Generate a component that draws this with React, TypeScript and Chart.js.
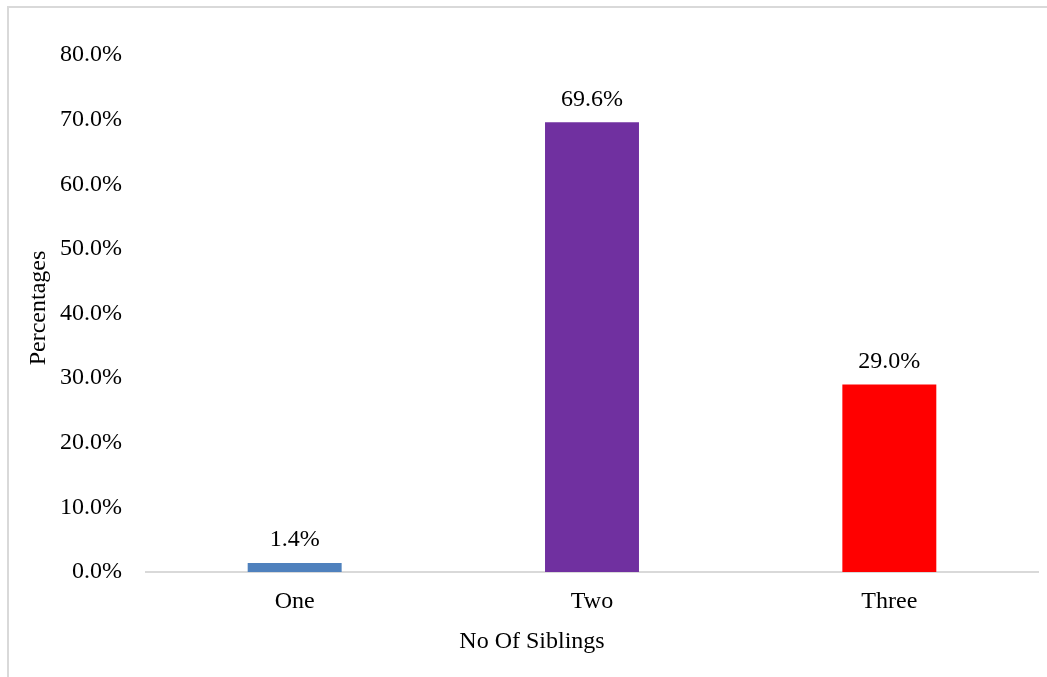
import React, { useEffect, useRef } from "react";
import { Chart, registerables } from "chart.js";

Chart.register(...registerables);

const categories = ["One", "Two", "Three"];
const percentages = [1.4, 69.6, 29.0];
const barColors = ["#4F81BD", "#7030A0", "#FF0000"];
const yTicks = [0, 10, 20, 30, 40, 50, 60, 70, 80];
const xTitle = "No Of Siblings";
const yTitle = "Percentages";

const FONT_FAMILY = "'Liberation Serif', 'Times New Roman', serif";
const FONT_SIZE = 24;

// Frame, axis titles and value labels above each bar
const decorations = {
  id: "decorations",
  beforeDraw(chart: any) {
    const { ctx, width, height } = chart;
    ctx.save();
    ctx.fillStyle = "#ffffff";
    ctx.fillRect(0, 0, width, height);
    ctx.strokeStyle = "#d9d9d9";
    ctx.lineWidth = 2;
    ctx.beginPath();
    ctx.moveTo(8, height + 2);
    ctx.lineTo(8, 7);
    ctx.lineTo(width + 2, 7);
    ctx.stroke();
    ctx.restore();
  },
  afterDatasetsDraw(chart: any) {
    const { ctx } = chart;
    ctx.save();
    ctx.fillStyle = "#000000";
    ctx.font = `${FONT_SIZE}px ${FONT_FAMILY}`;
    ctx.textAlign = "center";
    ctx.textBaseline = "middle";
    const meta = chart.getDatasetMeta(0);
    meta.data.forEach((bar: any, i: number) => {
      ctx.fillText(percentages[i].toFixed(1) + "%", bar.x, bar.y - 23);
    });
    // x axis title
    ctx.fillText(xTitle, 532, 642);
    // y axis title
    ctx.translate(39, 308);
    ctx.rotate(-Math.PI / 2);
    ctx.fillText(yTitle, 0, 0);
    ctx.restore();
  },
};

export default function App() {
  const canvasRef = useRef<HTMLCanvasElement | null>(null);

  useEffect(() => {
    if (!canvasRef.current) return;
    const font = { family: FONT_FAMILY, size: FONT_SIZE };
    const chart = new Chart(canvasRef.current, {
      type: "bar",
      data: {
        labels: categories,
        datasets: [
          {
            data: percentages,
            backgroundColor: barColors,
            borderWidth: 0,
            categoryPercentage: 1,
            barPercentage: 0.316,
          },
        ],
      },
      options: {
        responsive: false,
        animation: false,
        layout: { padding: { top: 55, right: 9, left: 0, bottom: 0 } },
        plugins: {
          legend: { display: false },
          tooltip: { enabled: false },
        },
        scales: {
          x: {
            grid: { display: false, drawTicks: false },
            border: { display: true, color: "#d9d9d9", width: 2 },
            ticks: { color: "#000000", font, padding: 15 },
            afterFit(scale: any) {
              scale.height = 105;
            },
          },
          y: {
            min: 0,
            max: 80,
            grid: { display: false, drawTicks: false },
            border: { display: false },
            afterBuildTicks(scale: any) {
              scale.ticks = yTicks.map((v) => ({ value: v }));
            },
            ticks: {
              color: "#000000",
              font,
              padding: 24,
              callback: (v: any) => Number(v).toFixed(1) + "%",
            },
            afterFit(scale: any) {
              scale.width = 146;
            },
          },
        },
      },
      plugins: [decorations],
    });
    return () => chart.destroy();
  }, []);

  return (
    <div style={{ position: "fixed", left: 0, top: 0, width: 1047, height: 677, overflow: "hidden", background: "#fff" }}>
      <canvas ref={canvasRef} width={1047} height={677} style={{ display: "block", width: 1047, height: 677 }} />
    </div>
  );
}
